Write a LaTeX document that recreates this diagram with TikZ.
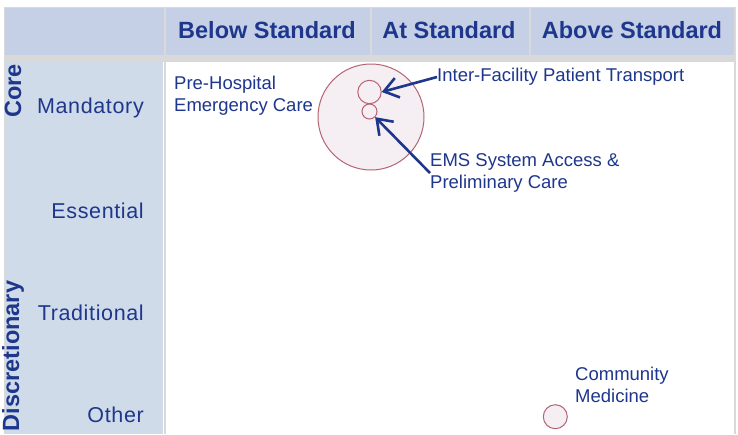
\documentclass[tikz,border=0pt]{standalone}
\usepackage{fontspec}
\setmainfont{Liberation Sans}
\usetikzlibrary{arrows.meta}
\definecolor{navy}{RGB}{30,55,140}
\definecolor{hdrblue}{RGB}{197,208,230}
\definecolor{sideblue}{RGB}{207,219,233}
\definecolor{gridgray}{RGB}{217,217,217}
\definecolor{bubfill}{RGB}{245,238,242}
\definecolor{bubline}{RGB}{180,100,115}
\begin{document}
\begin{tikzpicture}[x=1pt,y=-1pt,
  hdr/.style={text=navy,font=\fontsize{23.5}{28}\selectfont\bfseries,inner sep=0},
  grp/.style={text=navy,font=\fontsize{23.5}{28}\selectfont\bfseries,inner sep=0,rotate=90},
  rowlab/.style={text=navy,font=\fontsize{21.5}{26}\selectfont\addfontfeature{LetterSpace=3},inner sep=0,anchor=east},
  note/.style={text=navy,font=\fontsize{18.5}{22}\selectfont,inner sep=0,anchor=west,align=left},
  bubble/.style={circle,draw=bubline,fill=bubfill,line width=1pt,inner sep=0},
  arr/.style={draw=navy,line width=2.6pt,-{Straight Barb[length=14pt,width=20pt]}}
]
\useasboundingbox (0,0) rectangle (738,434);
\fill[white] (0,0) rectangle (738,434);
% header band and frame
\fill[hdrblue] (4,7) rectangle (735,55);
\fill[gridgray] (4,55) rectangle (735,62);
\fill[sideblue] (4,62) rectangle (163,434);
\draw[gridgray,line width=1pt] (4,7) -- (735,7);
\draw[gridgray,line width=1pt] (4,7) -- (4,434);
\draw[gridgray,line width=2pt] (164.5,7) -- (164.5,434);
\draw[gridgray,line width=1.5pt] (371,7) -- (371,55);
\draw[gridgray,line width=1.5pt] (530,7) -- (530,55);
\draw[gridgray,line width=1.5pt] (735,7) -- (735,434);
% headers
\node[hdr] (h1) at (267,30) {Below Standard};
\node[hdr] (h2) at (449,30) {At Standard};
\node[hdr] (h3) at (632,30) {Above Standard};
% groups
\node[grp] (core) at (13,91) {Core};
\node[grp] (disc) at (13,356) {Discretionary};
% rows
\node[rowlab] (r1) at (144,108) {Mandatory};
\node[rowlab] (r2) at (144,211) {Essential};
\node[rowlab] (r3) at (144,313) {Traditional};
\node[rowlab] (r4) at (144,415) {Other};
% bubbles
\node[bubble,minimum size=106pt] (big) at (371,117) {};
\node[bubble,minimum size=23.4pt] (c1) at (369.5,92) {};
\node[bubble,minimum size=15pt] (c2) at (369.5,111.5) {};
\node[bubble,minimum size=24pt] (cm) at (555.3,416.7) {};
% notes
\node[note] (phe) at (174,95.5) {Pre-Hospital\\Emergency Care};
\node[note] (ift) at (437,77) {Inter-Facility Patient Transport};
\node[note] (ems) at (430,173) {EMS System Access \&\\Preliminary Care};
\node[note] (com) at (575,385) {Community\\Medicine};
% arrows
\draw[arr] (ift.west) -- (c1.east);
\draw[arr] (ems.west) -- (c2.-45);
\end{tikzpicture}
\end{document}
